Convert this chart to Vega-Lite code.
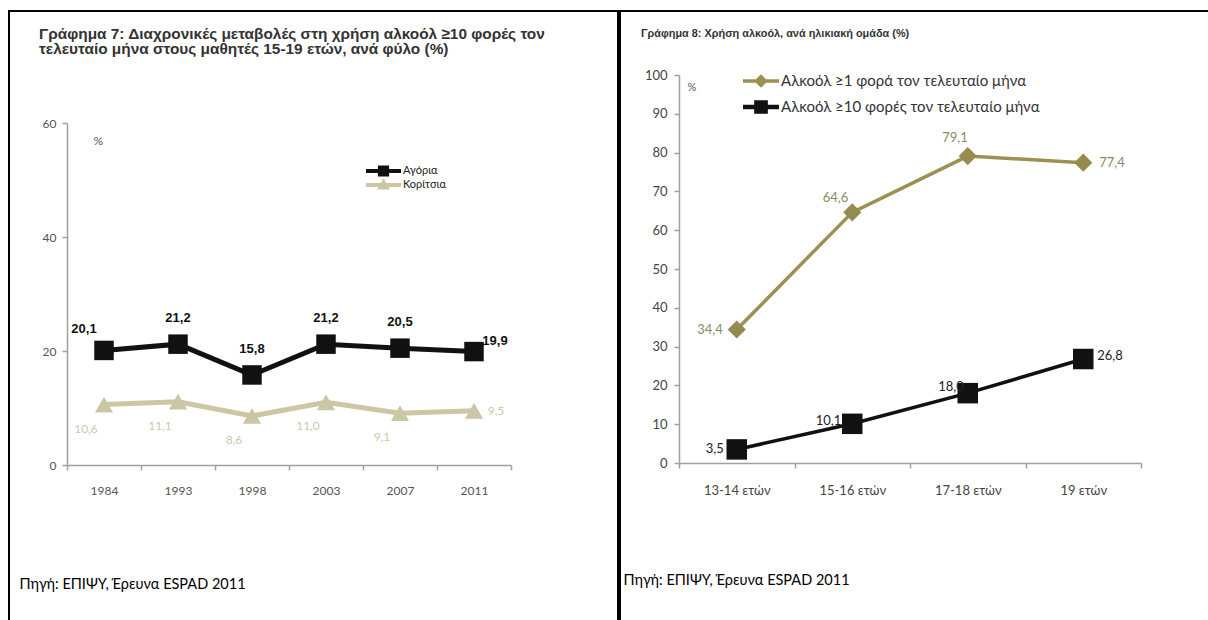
{
  "$schema": "https://vega.github.io/schema/vega-lite/v6.json",
  "background": "white",
  "padding": {"left": 8, "top": 10, "right": 1, "bottom": 0},
  "spacing": 0,
  "resolve": {
    "scale": {"color": "independent", "x": "independent", "y": "independent"},
    "legend": {"color": "independent"}
  },
  "config": {
    "locale": {"number": {"decimal": ",", "thousands": ".", "grouping": [3], "currency": ["", " €"]}},
    "view": {"stroke": "#000000", "strokeWidth": 2},
    "font": "Lato",
    "axis": {"grid": false, "domainColor": "#a0a0a0", "tickColor": "#a0a0a0", "domainWidth": 1.5, "tickWidth": 1.5, "labelColor": "#555555", "labelFont": "Lato"}
  },
  "datasets": {
    "grafima7": [
      {"etos": "1984", "fylo": "Αγόρια", "pososto": 20.1},
      {"etos": "1993", "fylo": "Αγόρια", "pososto": 21.2},
      {"etos": "1998", "fylo": "Αγόρια", "pososto": 15.8},
      {"etos": "2003", "fylo": "Αγόρια", "pososto": 21.2},
      {"etos": "2007", "fylo": "Αγόρια", "pososto": 20.5},
      {"etos": "2011", "fylo": "Αγόρια", "pososto": 19.9},
      {"etos": "1984", "fylo": "Κορίτσια", "pososto": 10.6},
      {"etos": "1993", "fylo": "Κορίτσια", "pososto": 11.1},
      {"etos": "1998", "fylo": "Κορίτσια", "pososto": 8.6},
      {"etos": "2003", "fylo": "Κορίτσια", "pososto": 11.0},
      {"etos": "2007", "fylo": "Κορίτσια", "pososto": 9.1},
      {"etos": "2011", "fylo": "Κορίτσια", "pososto": 9.5}
    ],
    "grafima8": [
      {"ilikia": "13-14 ετών", "seira": "Αλκοόλ ≥1 φορά τον τελευταίο μήνα", "pososto": 34.4},
      {"ilikia": "15-16 ετών", "seira": "Αλκοόλ ≥1 φορά τον τελευταίο μήνα", "pososto": 64.6},
      {"ilikia": "17-18 ετών", "seira": "Αλκοόλ ≥1 φορά τον τελευταίο μήνα", "pososto": 79.1},
      {"ilikia": "19 ετών", "seira": "Αλκοόλ ≥1 φορά τον τελευταίο μήνα", "pososto": 77.4},
      {"ilikia": "13-14 ετών", "seira": "Αλκοόλ ≥10 φορές τον τελευταίο μήνα", "pososto": 3.5},
      {"ilikia": "15-16 ετών", "seira": "Αλκοόλ ≥10 φορές τον τελευταίο μήνα", "pososto": 10.1},
      {"ilikia": "17-18 ετών", "seira": "Αλκοόλ ≥10 φορές τον τελευταίο μήνα", "pososto": 18.0},
      {"ilikia": "19 ετών", "seira": "Αλκοόλ ≥10 φορές τον τελευταίο μήνα", "pososto": 26.8}
    ]
  },
  "hconcat": [
    {
      "width": 609,
      "height": 610,
      "data": {"name": "grafima7"},
      "title": {
        "text": ["Γράφημα 7: Διαχρονικές μεταβολές στη χρήση αλκοόλ ≥10 φορές τον", "τελευταίο μήνα στους μαθητές 15-19 ετών, ανά φύλο (%)"],
        "anchor": "start", "frame": "group", "dx": 30, "offset": -46,
        "font": "Liberation Sans", "fontSize": 15.4, "fontWeight": "bold", "color": "#333333", "lineHeight": 15
      },
      "encoding": {
        "x": {
          "field": "etos", "type": "ordinal", "sort": null,
          "scale": {"type": "band", "range": [58, 502], "paddingInner": 0, "paddingOuter": 0},
          "axis": {
            "offset": -156, "labelAngle": 0, "tickBand": "extent", "tickSize": 5, "labelPadding": 15, "labelFontSize": 12,
            "title": "Πηγή: ΕΠΙΨΥ, Έρευνα ESPAD 2011", "titleX": 10, "titleY": 123, "titleAlign": "left", "titleBaseline": "alphabetic",
            "titleFont": "Lato", "titleFontSize": 14.5, "titleFontWeight": "normal", "titleColor": "#000000"
          }
        },
        "y": {
          "field": "pososto", "type": "quantitative",
          "scale": {"domain": [0, 60], "range": [454, 112], "nice": false},
          "axis": {
            "offset": -58, "values": [0, 20, 40, 60], "tickSize": 5, "labelPadding": 6, "labelFontSize": 12,
            "title": "%", "titleAngle": 0, "titleX": 26, "titleY": 129, "titleAlign": "left", "titleBaseline": "middle",
            "titleFontSize": 12, "titleFontWeight": "normal", "titleColor": "#555555"
          }
        }
      },
      "layer": [
        {
          "mark": {"type": "line", "strokeWidth": 5},
          "encoding": {
            "color": {
              "field": "fylo", "type": "nominal",
              "scale": {"domain": ["Αγόρια", "Κορίτσια"], "range": ["#111111", "#cbc6a4"]},
              "legend": {
                "orient": "none", "legendX": 357, "legendY": 153, "title": null, "padding": 0,
                "symbolSize": 1225, "symbolStrokeWidth": 0, "labelFontSize": 11, "labelColor": "#222222", "labelOffset": 2,
                "rowPadding": 0, "clipHeight": 14,
                "encode": {"symbols": {"update": {
                  "shape": {"signal": "datum.value === 'Αγόρια' ? 'M-1,-0.12H1V0.12H-1Z M-0.32,-0.32H0.32V0.32H-0.32Z' : 'M-1,-0.12H1V0.12H-1Z M0,-0.38L0.36,0.26H-0.36Z'"},
                  "fill": {"signal": "datum.value === 'Αγόρια' ? '#111111' : '#cbc6a4'"},
                  "fillOpacity": {"value": 1},
                  "strokeWidth": {"value": 0}
                }}}
              }
            }
          }
        },
        {
          "transform": [{"filter": "datum.fylo === 'Αγόρια'"}],
          "mark": {"type": "point", "shape": "square", "filled": true, "opacity": 1, "size": 380, "color": "#111111"}
        },
        {
          "transform": [{"filter": "datum.fylo === 'Κορίτσια'"}],
          "mark": {"type": "point", "shape": "triangle-up", "filled": true, "opacity": 1, "size": 330, "color": "#cbc6a4"}
        },
        {
          "transform": [{"filter": "datum.fylo === 'Αγόρια' && datum.etos !== '1984' && datum.etos !== '2011'"}],
          "mark": {"type": "text", "dy": -26, "font": "Liberation Sans", "fontSize": 13, "fontWeight": "bold", "color": "#111111"},
          "encoding": {"text": {"field": "pososto", "type": "quantitative", "format": ".1f"}}
        },
        {
          "transform": [{"filter": "datum.fylo === 'Αγόρια' && datum.etos === '1984'"}],
          "mark": {"type": "text", "dx": -20, "dy": -21, "font": "Liberation Sans", "fontSize": 13, "fontWeight": "bold", "color": "#111111"},
          "encoding": {"text": {"field": "pososto", "type": "quantitative", "format": ".1f"}}
        },
        {
          "transform": [{"filter": "datum.fylo === 'Αγόρια' && datum.etos === '2011'"}],
          "mark": {"type": "text", "dx": 21, "dy": -11, "font": "Liberation Sans", "fontSize": 13, "fontWeight": "bold", "color": "#111111"},
          "encoding": {"text": {"field": "pososto", "type": "quantitative", "format": ".1f"}}
        },
        {
          "transform": [{"filter": "datum.fylo === 'Κορίτσια' && datum.etos !== '2011'"}],
          "mark": {"type": "text", "dx": -18, "dy": 24, "font": "Lato", "fontSize": 12, "color": "#cdc8aa"},
          "encoding": {"text": {"field": "pososto", "type": "quantitative", "format": ".1f"}}
        },
        {
          "transform": [{"filter": "datum.fylo === 'Κορίτσια' && datum.etos === '2011'"}],
          "mark": {"type": "text", "dx": 22, "dy": 0, "font": "Lato", "fontSize": 12, "color": "#cdc8aa"},
          "encoding": {"text": {"field": "pososto", "type": "quantitative", "format": ".1f"}}
        }
      ]
    },
    {
      "width": 590,
      "height": 610,
      "data": {"name": "grafima8"},
      "title": {
        "text": "Γράφημα 8: Χρήση αλκοόλ, ανά ηλικιακή ομάδα (%)",
        "anchor": "start", "frame": "group", "dx": 21, "offset": -28,
        "font": "Liberation Sans", "fontSize": 10.9, "fontWeight": "bold", "color": "#333333"
      },
      "encoding": {
        "x": {
          "field": "ilikia", "type": "ordinal", "sort": null,
          "scale": {"type": "band", "range": [59, 521], "paddingInner": 0, "paddingOuter": 0},
          "axis": {
            "offset": -158, "labelAngle": 0, "tickBand": "extent", "tickSize": 5, "labelPadding": 16, "labelFontSize": 13, "labelColor": "#444444",
            "title": "Πηγή: ΕΠΙΨΥ, Έρευνα ESPAD 2011", "titleX": 3, "titleY": 121, "titleAlign": "left", "titleBaseline": "alphabetic",
            "titleFont": "Lato", "titleFontSize": 14.5, "titleFontWeight": "normal", "titleColor": "#000000"
          }
        },
        "y": {
          "field": "pososto", "type": "quantitative",
          "scale": {"domain": [0, 100], "range": [452, 64], "nice": false},
          "axis": {
            "offset": -59, "values": [0, 10, 20, 30, 40, 50, 60, 70, 80, 90, 100], "tickSize": 5, "labelPadding": 7, "labelFontSize": 13, "labelColor": "#444444",
            "title": "%", "titleAngle": 0, "titleX": 8, "titleY": 76, "titleAlign": "left", "titleBaseline": "middle",
            "titleFontSize": 11, "titleFontWeight": "normal", "titleColor": "#555555"
          }
        }
      },
      "layer": [
        {
          "mark": {"type": "line", "strokeWidth": 3.5},
          "encoding": {
            "color": {
              "field": "seira", "type": "nominal",
              "scale": {"domain": ["Αλκοόλ ≥1 φορά τον τελευταίο μήνα", "Αλκοόλ ≥10 φορές τον τελευταίο μήνα"], "range": ["#9b9153", "#111111"]},
              "legend": {
                "orient": "none", "legendX": 123, "legendY": 52, "title": null, "padding": 0,
                "symbolSize": 1296, "symbolStrokeWidth": 0, "labelFontSize": 15, "labelColor": "#333333", "labelOffset": 2, "rowPadding": -1,
                "labelLimit": 400,
                "encode": {"symbols": {"update": {
                  "shape": {"signal": "datum.value === 'Αλκοόλ ≥1 φορά τον τελευταίο μήνα' ? 'M-1,-0.1H1V0.1H-1Z M0,-0.38L0.38,0L0,0.38L-0.38,0Z' : 'M-1,-0.12H1V0.12H-1Z M-0.38,-0.38H0.38V0.38H-0.38Z'"},
                  "fill": {"signal": "datum.value === 'Αλκοόλ ≥1 φορά τον τελευταίο μήνα' ? '#9b9153' : '#111111'"},
                  "fillOpacity": {"value": 1},
                  "strokeWidth": {"value": 0}
                }}}
              }
            }
          }
        },
        {
          "transform": [{"filter": "datum.seira === 'Αλκοόλ ≥1 φορά τον τελευταίο μήνα'"}],
          "mark": {"type": "point", "shape": "diamond", "filled": true, "opacity": 1, "size": 330, "color": "#958b4e"}
        },
        {
          "transform": [{"filter": "datum.seira === 'Αλκοόλ ≥10 φορές τον τελευταίο μήνα'"}],
          "mark": {"type": "point", "shape": "square", "filled": true, "opacity": 1, "size": 420, "color": "#111111"}
        },
        {
          "transform": [{"filter": "datum.seira === 'Αλκοόλ ≥1 φορά τον τελευταίο μήνα' && datum.ilikia === '13-14 ετών'"}],
          "mark": {"type": "text", "align": "right", "dx": -14, "dy": 0, "font": "Lato", "fontSize": 13, "color": "#8f8a5e"},
          "encoding": {"text": {"field": "pososto", "type": "quantitative", "format": ".1f"}}
        },
        {
          "transform": [{"filter": "datum.seira === 'Αλκοόλ ≥1 φορά τον τελευταίο μήνα' && datum.ilikia === '15-16 ετών'"}],
          "mark": {"type": "text", "align": "right", "dx": -4, "dy": -14, "font": "Lato", "fontSize": 13, "color": "#8f8a5e"},
          "encoding": {"text": {"field": "pososto", "type": "quantitative", "format": ".1f"}}
        },
        {
          "transform": [{"filter": "datum.seira === 'Αλκοόλ ≥1 φορά τον τελευταίο μήνα' && datum.ilikia === '17-18 ετών'"}],
          "mark": {"type": "text", "align": "right", "dx": 0, "dy": -18, "font": "Lato", "fontSize": 13, "color": "#8f8a5e"},
          "encoding": {"text": {"field": "pososto", "type": "quantitative", "format": ".1f"}}
        },
        {
          "transform": [{"filter": "datum.seira === 'Αλκοόλ ≥1 φορά τον τελευταίο μήνα' && datum.ilikia === '19 ετών'"}],
          "mark": {"type": "text", "align": "left", "dx": 16, "dy": 0, "font": "Lato", "fontSize": 13, "color": "#8f8a5e"},
          "encoding": {"text": {"field": "pososto", "type": "quantitative", "format": ".1f"}}
        },
        {
          "transform": [{"filter": "datum.seira === 'Αλκοόλ ≥10 φορές τον τελευταίο μήνα' && datum.ilikia === '13-14 ετών'"}],
          "mark": {"type": "text", "align": "right", "dx": -13, "dy": 0, "font": "Lato", "fontSize": 13, "color": "#222222"},
          "encoding": {"text": {"field": "pososto", "type": "quantitative", "format": ".1f"}}
        },
        {
          "transform": [{"filter": "datum.seira === 'Αλκοόλ ≥10 φορές τον τελευταίο μήνα' && datum.ilikia === '15-16 ετών'"}],
          "mark": {"type": "text", "align": "right", "dx": -11, "dy": -3, "font": "Lato", "fontSize": 13, "color": "#222222"},
          "encoding": {"text": {"field": "pososto", "type": "quantitative", "format": ".1f"}}
        },
        {
          "transform": [{"filter": "datum.seira === 'Αλκοόλ ≥10 φορές τον τελευταίο μήνα' && datum.ilikia === '17-18 ετών'"}],
          "mark": {"type": "text", "align": "right", "dx": -4, "dy": -6, "font": "Lato", "fontSize": 13, "color": "#222222"},
          "encoding": {"text": {"field": "pososto", "type": "quantitative", "format": ".1f"}}
        },
        {
          "transform": [{"filter": "datum.seira === 'Αλκοόλ ≥10 φορές τον τελευταίο μήνα' && datum.ilikia === '19 ετών'"}],
          "mark": {"type": "text", "align": "left", "dx": 14, "dy": -3, "font": "Lato", "fontSize": 13, "color": "#222222"},
          "encoding": {"text": {"field": "pososto", "type": "quantitative", "format": ".1f"}}
        }
      ]
    }
  ]
}
